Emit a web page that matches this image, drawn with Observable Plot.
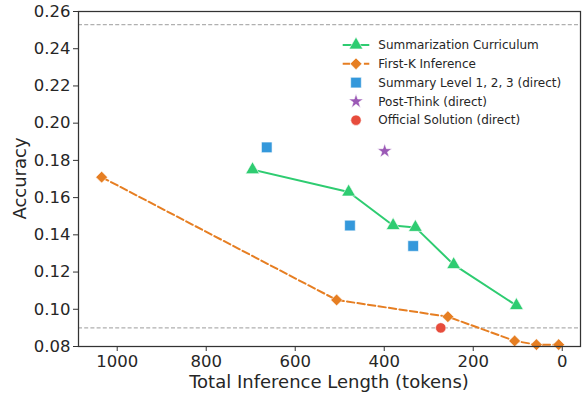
<!DOCTYPE html>
<html><head><meta charset="utf-8">
<script src="https://cdn.jsdelivr.net/npm/d3@7"></script>
<script src="https://cdn.jsdelivr.net/npm/@observablehq/plot@0.6"></script>
<style>body{margin:0;background:#fff;} svg{font-family:"DejaVu Sans",sans-serif;}</style>
</head><body><div id="chart"></div>
<script>
// Data
const curricX = [696, 480, 380, 330, 244, 103];
const curricY = [0.175, 0.163, 0.145, 0.144, 0.124, 0.102];
const firstKX = [1035, 507, 257, 107, 58, 8];
const firstKY = [0.171, 0.105, 0.096, 0.083, 0.081, 0.081];
const summaryX = [664, 477, 335];
const summaryY = [0.187, 0.145, 0.134];
const postThinkX = [399];
const postThinkY = [0.185];
const officialX = [273];
const officialY = [0.090];
const refLines = [0.253, 0.090];
const xTicks = [1000, 800, 600, 400, 200, 0];
const yTicks = [0.08, 0.10, 0.12, 0.14, 0.16, 0.18, 0.20, 0.22, 0.24, 0.26];
const legendLabels = ["Summarization Curriculum", "First-K Inference", "Summary Level 1, 2, 3 (direct)", "Post-Think (direct)", "Official Solution (direct)"];
const colors = {green:"#2ecc71", orange:"#e67e22", blue:"#3498db", purple:"#9b59b6", red:"#e74c3c"};

const zip = (xs, ys) => xs.map((x, i) => ({x, y: ys[i]}));
const curric = zip(curricX, curricY);
const firstK = zip(firstKX, firstKY);
const summary = zip(summaryX, summaryY);
const postThink = zip(postThinkX, postThinkY);
const official = zip(officialX, officialY);

const dotOpts = {x: "x", y: "y", stroke: "white", strokeWidth: 0.6};

const chart = Plot.plot({
  width: 583, height: 394,
  marginLeft: 78, marginRight: 3, marginTop: 11, marginBottom: 48,
  style: {fontFamily: "DejaVu Sans", background: "white", color: "#262626", overflow: "visible"},
  x: {domain: [1087, -41]},
  y: {domain: [0.08, 0.26]},
  marks: [
    Plot.ruleY(refLines, {stroke: "#b0b0b0", strokeWidth: 1.2, strokeDasharray: "4,2.2"}),
    Plot.line(firstK, {x: "x", y: "y", stroke: colors.orange, strokeWidth: 2, strokeDasharray: "7.4,3.2"}),
    Plot.line(curric, {x: "x", y: "y", stroke: colors.green, strokeWidth: 2}),
    Plot.dot(curric, {...dotOpts, symbol: "triangle", r: 5.1, fill: colors.green}),
    Plot.dot(firstK, {...dotOpts, symbol: "diamond2", r: 5.3, fill: colors.orange}),
    Plot.dot(summary, {...dotOpts, symbol: "square", r: 6.0, fill: colors.blue}),
    Plot.dot(postThink, {...dotOpts, symbol: "star", r: 4.6, fill: colors.purple}),
    Plot.dot(official, {...dotOpts, symbol: "circle", r: 5.2, fill: colors.red}),
    Plot.frame({stroke: "#333", strokeWidth: 1.25}),
    Plot.axisX({ticks: xTicks, tickSize: 5, tickPadding: 4, fontSize: 16.5, tickFormat: d3.format("d"), label: null, stroke: "#333"}),
    Plot.axisY({ticks: yTicks, tickSize: 5, tickPadding: 3, fontSize: 16.5, tickFormat: d3.format(".2f"), label: null, stroke: "#333"})
  ]
});
document.getElementById("chart").append(chart);

const svg = d3.select(chart);
// Axis labels
svg.append("text").attr("x", (78 + 580) / 2).attr("y", 387.5)
  .attr("text-anchor", "middle").attr("font-size", 18).attr("fill", "#262626")
  .text("Total Inference Length (tokens)");
svg.append("text").attr("transform", "translate(25.5," + ((11 + 346) / 2) + ") rotate(-90)")
  .attr("text-anchor", "middle").attr("font-size", 18).attr("fill", "#262626")
  .text("Accuracy");

// Legend
const legendSpec = [
  {sym: d3.symbolTriangle, r: 5.1, color: colors.green, line: ""},
  {sym: d3.symbolDiamond2, r: 5.3, color: colors.orange, line: "7.4,3.2"},
  {sym: d3.symbolSquare, r: 6.0, color: colors.blue, line: null},
  {sym: d3.symbolStar, r: 4.6, color: colors.purple, line: null},
  {sym: d3.symbolCircle, r: 5.2, color: colors.red, line: null}
];
const lg = svg.append("g").attr("font-size", 12).attr("fill", "#262626").attr("text-anchor", "start");
legendSpec.forEach((s, i) => {
  const y = 45 + i * 18.8;
  if (s.line !== null) {
    lg.append("line").attr("x1", 342.7).attr("x2", 369.3).attr("y1", y).attr("y2", y)
      .attr("stroke", s.color).attr("stroke-width", 2)
      .attr("stroke-dasharray", s.line || null);
  }
  lg.append("path").attr("transform", `translate(356,${y})`)
    .attr("d", d3.symbol(s.sym, s.r * s.r * Math.PI)())
    .attr("fill", s.color).attr("stroke", "white").attr("stroke-width", 0.6);
  lg.append("text").attr("x", 378.3).attr("y", y).attr("dy", "0.35em")
    .attr("text-anchor", "start").text(legendLabels[i]);
});
</script>
</body></html>
